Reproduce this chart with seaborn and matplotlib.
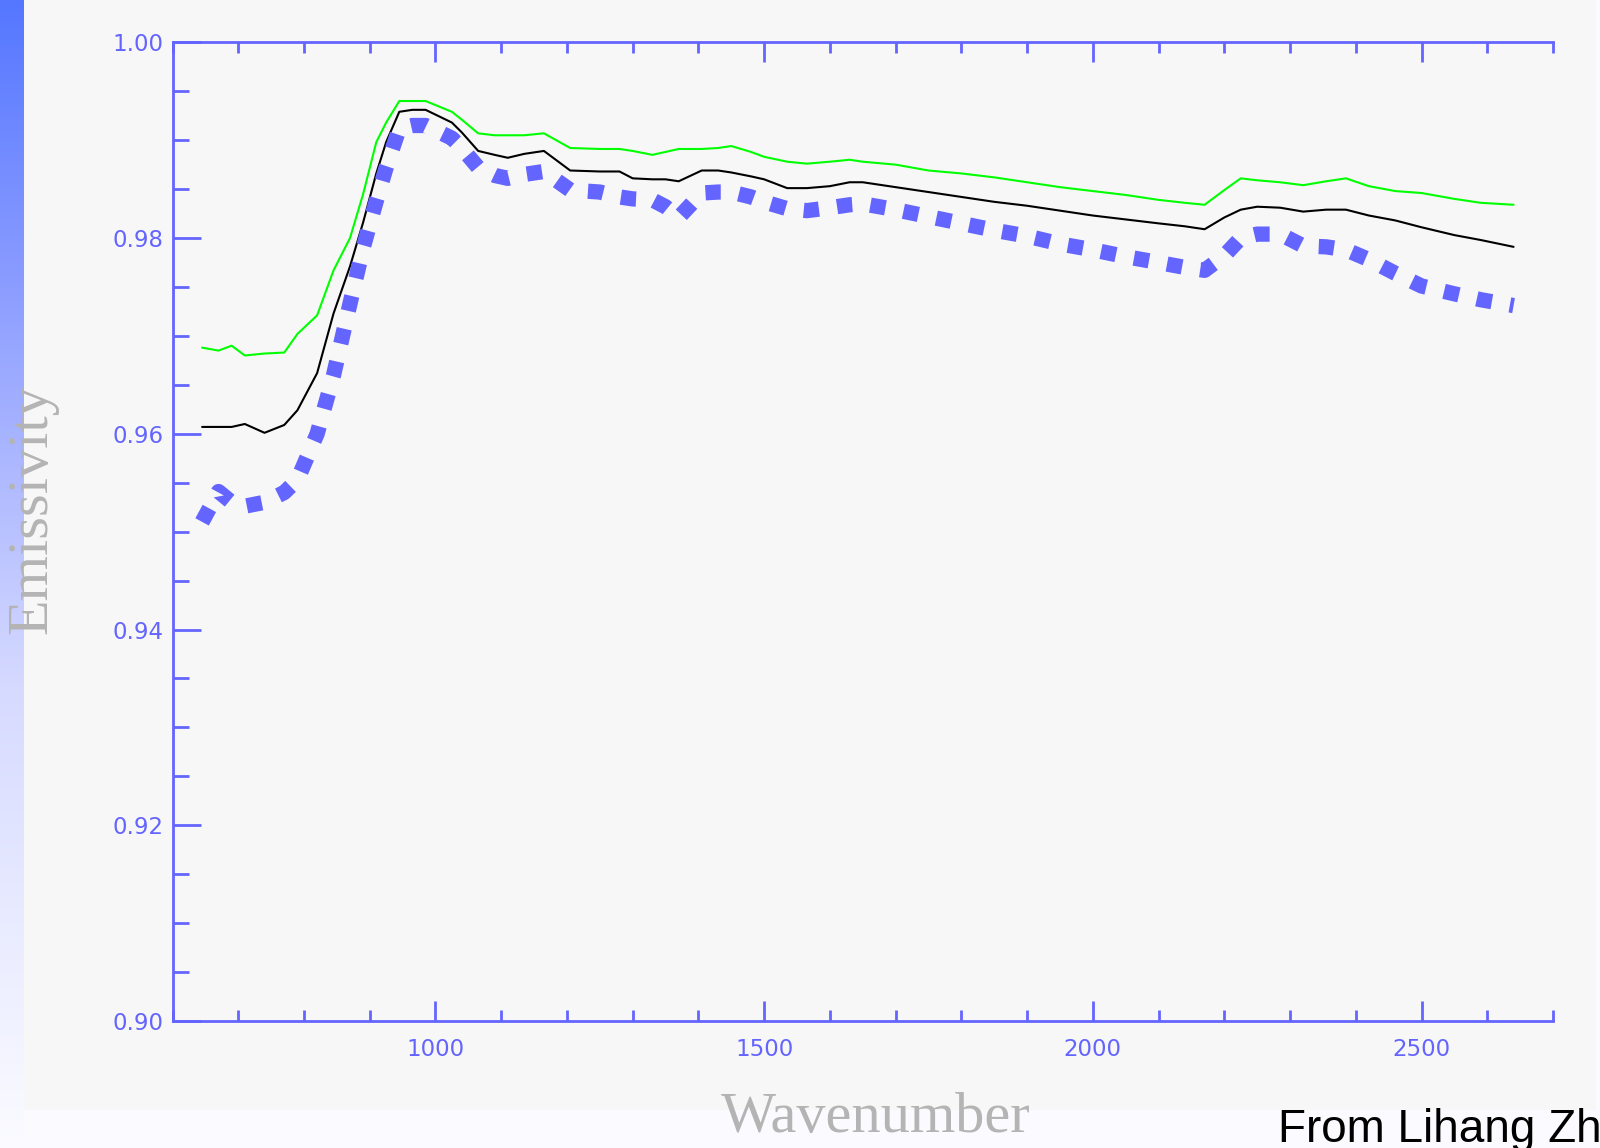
import matplotlib
matplotlib.use("Agg")

import matplotlib.pyplot as plt
import numpy as np
import pandas as pd
import seaborn as sns
from matplotlib.colors import LinearSegmentedColormap
from matplotlib.patches import Rectangle
from matplotlib.ticker import FixedLocator, FormatStrFormatter, MultipleLocator


# values
wavenumber = [
    645, 670, 690, 710, 740, 770, 790, 820, 845, 870, 890, 910, 925, 945,
    965, 985, 1025, 1040, 1065, 1090, 1110, 1135, 1165, 1205, 1250, 1280,
    1300, 1330, 1350, 1370, 1405, 1430, 1450, 1480, 1500, 1535, 1565, 1600,
    1630, 1650, 1700, 1750, 1800, 1850, 1900, 1950, 2000, 2050, 2100, 2140,
    2170, 2200, 2225, 2250, 2285, 2320, 2355, 2385, 2420, 2460, 2500, 2550,
    2590, 2640,
]
emis_green = [
    0.9688, 0.9685, 0.9690, 0.9680, 0.9682, 0.9683, 0.9702, 0.9721, 0.9767,
    0.9800, 0.9845, 0.9898, 0.9918, 0.9940, 0.9940, 0.9940, 0.9929, 0.9921,
    0.9907, 0.9905, 0.9905, 0.9905, 0.9907, 0.9892, 0.9891, 0.9891, 0.9889,
    0.9885, 0.9888, 0.9891, 0.9891, 0.9892, 0.9894, 0.9888, 0.9883, 0.9878,
    0.9876, 0.9878, 0.9880, 0.9878, 0.9875, 0.9869, 0.9866, 0.9862, 0.9857,
    0.9852, 0.9848, 0.9844, 0.9839, 0.9836, 0.9834, 0.9849, 0.9861, 0.9859,
    0.9857, 0.9854, 0.9858, 0.9861, 0.9853, 0.9848, 0.9846, 0.9840, 0.9836,
    0.9834,
]
emis_black = [
    0.9607, 0.9607, 0.9607, 0.9610, 0.9601, 0.9609, 0.9624, 0.9662, 0.9723,
    0.9771, 0.9816, 0.9866, 0.9898, 0.9929, 0.9931, 0.9931, 0.9918, 0.9908,
    0.9889, 0.9885, 0.9882, 0.9886, 0.9889, 0.9869, 0.9868, 0.9868, 0.9861,
    0.9860, 0.9860, 0.9858, 0.9869, 0.9869, 0.9867, 0.9863, 0.9860, 0.9851,
    0.9851, 0.9853, 0.9857, 0.9857, 0.9852, 0.9847, 0.9842, 0.9837, 0.9833,
    0.9828, 0.9823, 0.9819, 0.9815, 0.9812, 0.9809, 0.9821, 0.9829, 0.9832,
    0.9831, 0.9827, 0.9829, 0.9829, 0.9823, 0.9818, 0.9811, 0.9803, 0.9798,
    0.9791,
]
emis_blue = [
    0.9510, 0.9541, 0.9530, 0.9526, 0.9530, 0.9540, 0.9553, 0.9600, 0.9660,
    0.9733, 0.9790, 0.9838, 0.9872, 0.9912, 0.9915, 0.9915, 0.9902, 0.9892,
    0.9872, 0.9864, 0.9861, 0.9865, 0.9868, 0.9849, 0.9847, 0.9842, 0.9840,
    0.9839, 0.9832, 0.9821, 0.9846, 0.9847, 0.9847, 0.9842, 0.9837, 0.9830,
    0.9828, 0.9831, 0.9834, 0.9835, 0.9829, 0.9822, 0.9815, 0.9808, 0.9802,
    0.9794, 0.9788, 0.9781, 0.9775, 0.9770, 0.9767, 0.9782, 0.9800, 0.9804,
    0.9804, 0.9792, 0.9791, 0.9788, 0.9778, 0.9764, 0.9751, 0.9743, 0.9737,
    0.9731,
]
x_major = [1000, 1500, 2000, 2500]
y_major = [0.90, 0.92, 0.94, 0.96, 0.98, 1.00]

AXIS_BLUE = "#6464ff"
TITLE_GREY = "#b4b4b4"

df = pd.DataFrame(
    {
        "wavenumber": wavenumber,
        "green": emis_green,
        "black": emis_black,
        "blue": emis_blue,
    }
)

sns.set_theme(style="white")
plt.rcParams["font.family"] = ["DejaVu Sans"]

W, H = 1600, 1148
fig = plt.figure(figsize=(W / 100, H / 100), dpi=100, facecolor="#fbfbff")

# light grey slide panel behind the plot
fig.add_artist(
    Rectangle(
        (24 / W, 1 - 1110 / H), (1596 - 24) / W, 1110 / H,
        transform=fig.transFigure, facecolor="#f7f7f7", edgecolor="none", zorder=-1,
    )
)

# blue gradient strip on the left edge
bar_cmap = LinearSegmentedColormap.from_list(
    "strip",
    [(0.0, "#5577ff"), (0.25, "#8c9dff"), (0.6, "#d6daff"), (1.0, "#fbfbff")],
)
bar_ax = fig.add_axes([0, 0, 24 / W, 1])
bar_ax.imshow(np.linspace(0, 1, 256).reshape(-1, 1), aspect="auto", cmap=bar_cmap)
bar_ax.axis("off")

left, right, top, bottom = 172.5, 1553, 42.3, 1021
ax = fig.add_axes([left / W, 1 - bottom / H, (right - left) / W, (bottom - top) / H])
ax.set_facecolor("#f7f7f7")

sns.lineplot(data=df, x="wavenumber", y="green", ax=ax, color="#00ff00", linewidth=1.5)
sns.lineplot(data=df, x="wavenumber", y="black", ax=ax, color="black", linewidth=1.5)
sns.lineplot(
    data=df, x="wavenumber", y="blue", ax=ax, color=AXIS_BLUE,
    linewidth=11, linestyle=(0, (1, 1.2)), dash_capstyle="butt",
)

ax.set_xlim(600, 2700)
ax.set_ylim(0.90, 1.00)
ax.set_xlabel("")
ax.set_ylabel("")

ax.xaxis.set_major_locator(FixedLocator(x_major))
ax.xaxis.set_minor_locator(MultipleLocator(100))
ax.xaxis.set_major_formatter(FormatStrFormatter("%d"))
ax.yaxis.set_major_locator(FixedLocator(y_major))
ax.yaxis.set_minor_locator(MultipleLocator(0.005))
ax.yaxis.set_major_formatter(FormatStrFormatter("%.2f"))

ax.tick_params(axis="x", which="both", direction="in", top=True, bottom=True,
               width=2, color=AXIS_BLUE, labelcolor=AXIS_BLUE, labelsize=16.5, pad=12)
ax.tick_params(axis="x", which="major", length=14.4)
ax.tick_params(axis="x", which="minor", length=8)
ax.tick_params(axis="y", which="both", direction="in", left=True, right=False,
               width=2, color=AXIS_BLUE, labelcolor=AXIS_BLUE, labelsize=16.5, pad=6.5)
ax.tick_params(axis="y", which="major", length=20)
ax.tick_params(axis="y", which="minor", length=11.5)

for side in ["left", "top", "bottom"]:
    ax.spines[side].set_color(AXIS_BLUE)
    ax.spines[side].set_linewidth(2)
ax.spines["right"].set_visible(False)

fig.text(876 / W, 1 - 1132 / H, "Wavenumber", ha="center", va="baseline",
         fontsize=42, family="Liberation Serif", color=TITLE_GREY)
fig.text(32 / W, 1 - 509 / H, "Emissivity", rotation=90, ha="center", va="center",
         fontsize=42, family="Liberation Serif", color=TITLE_GREY)
# the credit runs off the right edge in the original slide as well
fig.text(1278 / W, 1 - 1142 / H, "From Lihang Zhou", ha="left", va="baseline",
         fontsize=33, family="Liberation Sans", color="black")

fig.savefig("out.png", dpi=100, facecolor=fig.get_facecolor())
plt.close(fig)
